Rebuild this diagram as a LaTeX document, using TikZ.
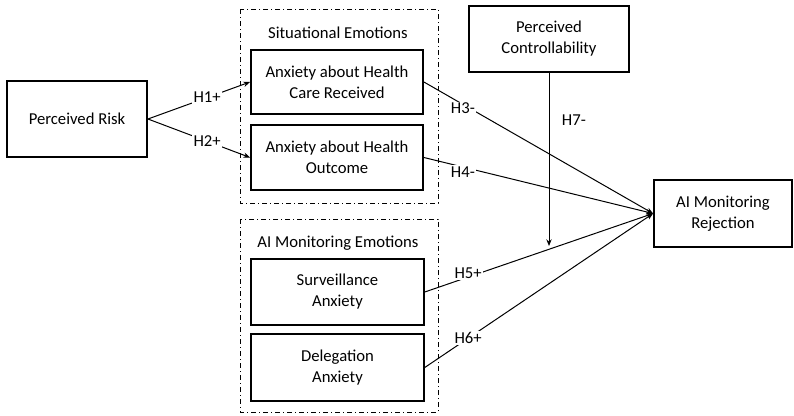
\documentclass[tikz,border=0pt]{standalone}
\usepackage{fontspec}
\setmainfont{Carlito}
\usetikzlibrary{arrows.meta}
\begin{document}
\begin{tikzpicture}[x=0.75pt,y=-0.75pt,
  every node/.style={font=\fontsize{12.5}{15.75}\selectfont},
  box/.style={draw,line width=1.4pt,align=center,inner sep=2pt},
  group/.style={draw,line width=0.6pt,dash pattern=on 4pt off 2pt on 1pt off 2pt},
  conn/.style={line width=0.75pt},
  arr/.style={conn,-{Stealth[length=5pt,width=4pt]}},
  lab/.style={fill=white,inner sep=1pt}]
\useasboundingbox (0,0) rectangle (794,415);
% groups
\draw[group] (240,9) rectangle (438,203);
\draw[group] (240,219) rectangle (438,412);
\node (sit) at (338,33) {Situational Emotions};
\node (aime) at (338,243) {AI Monitoring Emotions};
% boxes
\node[box,minimum width=105pt,minimum height=57pt] (pr) at (77,119) {Perceived Risk};
\node[box,minimum width=129pt,minimum height=48pt] (hc) at (337,82) {Anxiety about Health\\Care Received};
\node[box,minimum width=129pt,minimum height=48.5pt] (ho) at (337,157.5) {Anxiety about Health\\Outcome};
\node[box,minimum width=120pt,minimum height=49.5pt] (pc) at (549,39) {Perceived\\Controllability};
\node[box,minimum width=103.5pt,minimum height=50pt] (air) at (723,213.5) {AI Monitoring\\Rejection};
\node[box,minimum width=129.5pt,minimum height=49.5pt] (sa) at (337.5,292) {Surveillance\\Anxiety};
\node[box,minimum width=129.5pt,minimum height=50pt] (da) at (337.5,367.5) {Delegation\\Anxiety};
% connectors
\draw[arr] (pr.east) -- node[lab,pos=0.58] {H1+} (hc.west);
\draw[arr] (pr.east) -- node[lab,pos=0.58] {H2+} (ho.west);
\draw[arr] (hc.east) -- node[lab,pos=0.17,yshift=-3pt] {H3-} (air.west);
\draw[arr] (ho.east) -- node[lab,pos=0.17,yshift=-3.5pt] {H4-} (air.west);
\draw[arr] (sa.east) -- node[lab,pos=0.19,yshift=3pt] {H5+} (air.west);
\draw[arr] (da.east) -- node[lab,pos=0.19] {H6+} (air.west);
\coordinate (mod) at (549,246);
\draw[arr] (pc.south) -- node[right=6pt,pos=0.27] {H7-} (mod);
\end{tikzpicture}
\end{document}
